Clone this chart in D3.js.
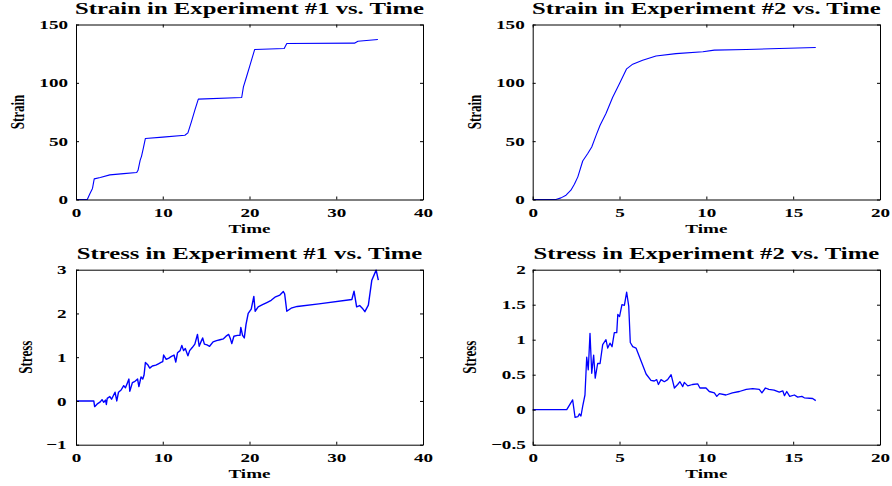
<!DOCTYPE html>
<html>
<head>
<meta charset="utf-8">
<script src="https://cdn.jsdelivr.net/npm/d3@7"></script>
<style>
  body { margin: 0; background: #fff; }
  svg text { font-family: "Liberation Serif", "Times New Roman", serif; font-weight: bold; fill: #000; }
</style>
</head>
<body>
<div id="chart"></div>
<script>
// data (time, value)
var strain1 = [[0,0],[1.3,0],[1.6,5],[1.9,9.5],[2.1,17.7],[2.8,18.9],[3.9,21.1],[5.5,22.2],[7.0,23.1],
  [7.15,25],[7.4,33.7],[7.55,37],[7.75,43.7],[8.0,52.3],[10,53.5],[12.55,55.1],[12.9,57.1],[13.3,66.6],
  [13.7,76.6],[14.1,86],[19.1,87.4],[19.3,96.6],[19.65,105],[20.0,113.7],[20.6,128.6],[24.0,129.4],
  [24.3,133.7],[32.1,134],[32.5,135.7],[34.8,137.1]];

var strain2 = [[0,0],[1.34,0],[1.63,1.4],[1.92,3.7],[2.2,8],[2.4,13],[2.6,19.4],[2.88,33],[3.17,39.4],
  [3.4,45],[3.65,55],[3.88,63.7],[4.22,73.7],[4.6,87.4],[5.0,99.4],[5.41,112],[5.76,116],[6.33,119.4],
  [7.1,123],[8.25,125],[9.8,126.6],[10.46,128],[12.3,128.6],[14.2,129.4],[16.3,130.3]];

var stress1 = [[0,0],[2.05,0],[2.15,-0.13],[2.5,-0.06],[2.8,-0.02],[3.0,0.03],[3.2,-0.03],[3.4,0.02],
  [3.5,-0.08],[3.6,0.06],[3.9,0.1],[4.1,0.04],[4.3,0.12],[4.5,0.2],[4.7,0.0],[4.9,0.2],[5.2,0.25],
  [5.5,0.35],[5.7,0.3],[5.9,0.4],[6.1,0.5],[6.2,0.22],[6.5,0.42],[6.8,0.45],[7.1,0.5],[7.25,0.33],
  [7.5,0.55],[7.7,0.5],[7.85,0.6],[8.0,0.88],[8.3,0.82],[8.5,0.75],[8.8,0.8],[9.2,0.82],[9.5,0.85],
  [9.8,0.88],[10.0,0.9],[10.1,1.05],[10.4,0.95],[10.7,0.98],[11.0,1.02],[11.3,1.05],[11.5,0.89],
  [11.7,1.1],[12.0,1.15],[12.2,1.27],[12.4,1.15],[12.6,1.2],[12.9,1.03],[13.1,1.15],[13.4,1.22],
  [13.7,1.3],[14.0,1.52],[14.2,1.25],[14.4,1.35],[14.6,1.44],[14.8,1.3],[15.1,1.28],[15.4,1.25],
  [15.8,1.35],[16.2,1.38],[16.6,1.4],[17.0,1.42],[17.3,1.48],[17.6,1.52],[17.8,1.42],[17.96,1.31],
  [18.2,1.48],[18.6,1.5],[18.9,1.5],[19.0,1.68],[19.2,1.5],[19.4,1.44],[19.6,1.75],[19.85,2.0],
  [20.2,2.1],[20.5,2.39],[20.65,2.05],[21.0,2.15],[21.5,2.2],[22.0,2.25],[22.5,2.3],[23.0,2.38],
  [23.5,2.42],[23.9,2.5],[24.05,2.45],[24.3,2.05],[24.8,2.12],[25.5,2.16],[28,2.22],[31.8,2.32],
  [32.05,2.51],[32.35,2.15],[32.7,2.18],[33.0,2.12],[33.3,2.04],[33.7,2.19],[34.1,2.76],[34.6,2.99],
  [34.85,2.76]];

var stress2 = [[0,0],[1.96,0],[2.3,0.14],[2.44,-0.11],[2.6,-0.1],[2.69,-0.06],[2.78,-0.09],[2.88,0.05],
  [3.01,0.21],[3.11,0.75],[3.2,0.57],[3.3,1.09],[3.4,0.52],[3.51,0.78],[3.6,0.45],[3.74,0.66],
  [3.88,0.66],[4.03,0.93],[4.22,1.0],[4.32,0.88],[4.45,0.95],[4.57,0.9],[4.7,1.1],[4.84,1.1],
  [4.9,1.36],[5.0,1.33],[5.14,1.5],[5.28,1.49],[5.41,1.68],[5.53,1.48],[5.62,0.96],[5.76,0.9],
  [5.95,0.88],[6.14,0.76],[6.33,0.64],[6.53,0.51],[6.81,0.42],[7.0,0.41],[7.14,0.43],[7.24,0.36],
  [7.39,0.43],[7.58,0.4],[7.77,0.43],[7.97,0.5],[8.16,0.31],[8.35,0.36],[8.48,0.4],[8.64,0.33],
  [8.73,0.39],[8.93,0.34],[9.2,0.36],[9.5,0.37],[9.63,0.31],[9.98,0.31],[10.17,0.26],[10.46,0.24],
  [10.6,0.19],[10.75,0.23],[11.13,0.21],[11.5,0.24],[11.9,0.26],[12.3,0.29],[12.67,0.3],[13.05,0.29],
  [13.2,0.24],[13.4,0.31],[13.6,0.29],[13.9,0.28],[14.2,0.25],[14.4,0.27],[14.5,0.2],[14.63,0.26],
  [14.8,0.19],[15.07,0.21],[15.26,0.18],[15.5,0.19],[15.64,0.17],[16.12,0.16],[16.3,0.13]];

// titles, labels, ticks
var titles = ["Strain in Experiment #1 vs. Time", "Strain in Experiment #2 vs. Time",
              "Stress in Experiment #1 vs. Time", "Stress in Experiment #2 vs. Time"];
var y_labels = ["Strain", "Strain", "Stress", "Stress"];
var x_label = "Time";
var x_ticks_exp1 = [0, 10, 20, 30, 40],
    x_ticks_exp2 = [0, 5, 10, 15, 20],
    y_ticks_strain = [0, 50, 100, 150],
    y_ticks_stress1 = [-1, 0, 1, 2, 3],
    y_ticks_stress2 = [-0.5, 0, 0.5, 1, 1.5, 2];

var width = 892, height = 486, SX = 1.47;

var panels = [
  {data: strain1, xd: [0, 40], yd: [0, 150], xt: x_ticks_exp1, yt: y_ticks_strain,
   box: {l: 76, r: 423, t: 24.5, b: 199.5}, pad: 8, ylab: -52, lw: 1.1},
  {data: strain2, xd: [0, 20], yd: [0, 150], xt: x_ticks_exp2, yt: y_ticks_strain,
   box: {l: 532.7, r: 880, t: 24.5, b: 199.5}, pad: 8, ylab: -51.7, lw: 1.1},
  {data: stress1, xd: [0, 40], yd: [-1, 3], xt: x_ticks_exp1, yt: y_ticks_stress1,
   box: {l: 76, r: 423, t: 269.7, b: 444.7}, pad: 9.5, ylab: -44, lw: 1.4},
  {data: stress2, xd: [0, 20], yd: [-0.5, 2], xt: x_ticks_exp2, yt: y_ticks_stress2,
   box: {l: 532.7, r: 880, t: 269.7, b: 444.7}, pad: 7, ylab: -56.7, lw: 1.3}
];

var svg = d3.select('#chart').append('svg')
    .attr('width', width)
    .attr('height', height);

var fmt = function(d) { return d3.format("")(d).replace("-", "\u2212"); };

panels.forEach(function(p, i) {
  var b = p.box;
  var x = d3.scaleLinear().domain(p.xd).range([b.l, b.r]),
      y = d3.scaleLinear().domain(p.yd).range([b.b, b.t]);

  var g = svg.append('g');

  // data line
  g.append('path')
    .datum(p.data)
    .attr('fill', 'none')
    .attr('stroke', '#0000ff')
    .attr('stroke-width', p.lw)
    .attr('stroke-linejoin', 'round')
    .attr('d', d3.line().x(function(d) { return x(d[0]); }).y(function(d) { return y(d[1]); }));

  // axes (ticks point inward, mirrored on top / right)
  var ax_b = g.append('g').attr('transform', 'translate(0,' + b.b + ')')
    .call(d3.axisBottom(x).tickValues(p.xt).tickFormat(fmt).tickSizeInner(-3).tickSizeOuter(0).tickPadding(8));
  var ax_l = g.append('g').attr('transform', 'translate(' + b.l + ',0)')
    .call(d3.axisLeft(y).tickValues(p.yt).tickFormat(fmt).tickSizeInner(-3).tickSizeOuter(0).tickPadding(p.pad));
  g.append('g').attr('transform', 'translate(0,' + b.t + ')')
    .call(d3.axisTop(x).tickValues(p.xt).tickFormat('').tickSizeInner(-3).tickSizeOuter(0));
  g.append('g').attr('transform', 'translate(' + b.r + ',0)')
    .call(d3.axisRight(y).tickValues(p.yt).tickFormat('').tickSizeInner(-3).tickSizeOuter(0));

  g.selectAll('.domain').attr('stroke', '#000').attr('stroke-width', 1);
  g.selectAll('.tick line').attr('stroke', '#000');

  ax_b.selectAll('text')
    .attr('font-size', 13)
    .attr('transform', 'scale(' + SX + ',1)');
  ax_l.selectAll('text')
    .attr('font-size', 13)
    .attr('x', 0)
    .attr('transform', 'translate(' + (-p.pad) + ',0) scale(' + SX + ',1)');
  g.selectAll('.tick text').attr('font-family', null).attr('fill', '#000');
  g.selectAll('.domain').each(function() { d3.select(this.parentNode).attr('font-family', null); });

  var cx = (b.l + b.r) / 2, cy = (b.t + b.b) / 2;

  // title
  g.append('text')
    .attr('transform', 'translate(' + cx + ',' + (b.t - 11) + ') scale(' + SX + ',1)')
    .attr('text-anchor', 'middle')
    .attr('font-size', 16.8)
    .text(titles[i]);

  // x label
  g.append('text')
    .attr('transform', 'translate(' + cx + ',' + (b.b + 33.5) + ') scale(' + SX + ',1)')
    .attr('text-anchor', 'middle')
    .attr('font-size', 13)
    .text(x_label);

  // y label
  g.append('text')
    .attr('transform', 'translate(' + (b.l + p.ylab) + ',' + cy + ') scale(' + SX + ',1) rotate(-90)')
    .attr('text-anchor', 'middle')
    .attr('font-size', 13)
    .text(y_labels[i]);
});
</script>
</body>
</html>
